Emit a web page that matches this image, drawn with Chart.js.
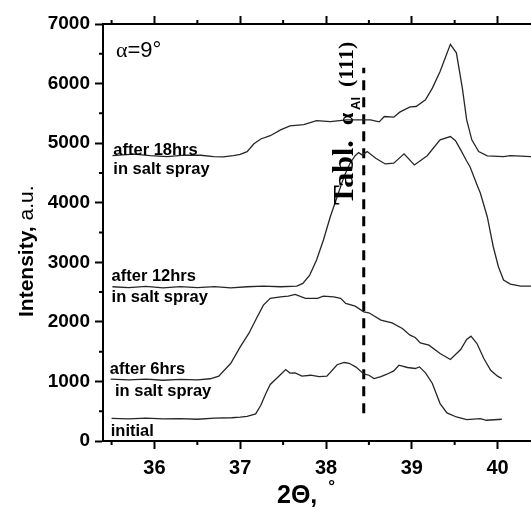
<!DOCTYPE html>
<html>
<head>
<meta charset="utf-8">
<script src="https://cdn.jsdelivr.net/npm/chart.js@4.4.1/dist/chart.umd.min.js"></script>
<style>
  html, body { margin: 0; padding: 0; background: #fff; }
  #wrap { width: 531px; height: 510px; }
</style>
</head>
<body>
<div id="wrap"><canvas id="xrd"></canvas></div>
<script>
// 2Theta (deg) / intensity (a.u.)

const initialX = [35.5, 35.7, 35.9, 36.1, 36.3, 36.5, 36.7, 36.9, 37.0, 37.08, 37.18, 37.24, 37.3, 37.35, 37.45, 37.53, 37.58, 37.64, 37.72, 37.82, 37.92, 38.01, 38.13, 38.21, 38.27, 38.35, 38.44, 38.5, 38.56, 38.64, 38.71, 38.79, 38.85, 38.95, 39.04, 39.09, 39.16, 39.24, 39.33, 39.41, 39.52, 39.64, 39.8, 39.87, 40.05];
const initialY = [380, 372, 385, 370, 375, 365, 385, 390, 400, 415, 455, 600, 800, 950, 1088, 1200, 1140, 1143, 1088, 1104, 1080, 1088, 1280, 1318, 1305, 1240, 1125, 1104, 1049, 1080, 1121, 1177, 1272, 1234, 1217, 1244, 1143, 965, 628, 471, 403, 360, 376, 348, 365];

const after6X = [35.49, 35.7, 35.9, 36.1, 36.3, 36.5, 36.65, 36.75, 36.89, 37.0, 37.1, 37.19, 37.27, 37.35, 37.47, 37.56, 37.64, 37.76, 37.9, 37.97, 38.09, 38.17, 38.23, 38.34, 38.44, 38.5, 38.64, 38.77, 38.89, 38.98, 39.04, 39.1, 39.2, 39.33, 39.45, 39.57, 39.64, 39.69, 39.76, 39.84, 39.92, 40.0, 40.05];
const after6Y = [1037, 1025, 1040, 1020, 1035, 1025, 1045, 1088, 1305, 1580, 1805, 2060, 2281, 2394, 2421, 2433, 2461, 2394, 2394, 2433, 2421, 2394, 2310, 2264, 2168, 2152, 2029, 1984, 1889, 1777, 1738, 1648, 1609, 1469, 1368, 1536, 1704, 1760, 1637, 1385, 1188, 1088, 1049];

const after12X = [35.51, 35.7, 35.9, 36.1, 36.3, 36.5, 36.7, 36.89, 37.08, 37.27, 37.47, 37.66, 37.73, 37.81, 37.89, 37.97, 38.05, 38.13, 38.21, 38.28, 38.34, 38.38, 38.42, 38.48, 38.58, 38.69, 38.79, 38.91, 39.03, 39.18, 39.33, 39.45, 39.51, 39.57, 39.64, 39.68, 39.76, 39.8, 39.88, 39.95, 40.01, 40.07, 40.15, 40.27, 40.39];
const after12Y = [2589, 2575, 2595, 2570, 2590, 2575, 2590, 2572, 2589, 2600, 2589, 2600, 2646, 2785, 3037, 3374, 3765, 4101, 4438, 4663, 4790, 4841, 4803, 4858, 4747, 4651, 4663, 4820, 4634, 4790, 5055, 5110, 5040, 4887, 4700, 4600, 4300, 4159, 3765, 3261, 2925, 2701, 2634, 2600, 2600];

const after18X = [35.51, 35.76, 35.95, 36.15, 36.35, 36.54, 36.69, 36.8, 36.92, 37.0, 37.08, 37.16, 37.24, 37.35, 37.47, 37.58, 37.74, 37.89, 38.05, 38.24, 38.4, 38.52, 38.62, 38.68, 38.79, 38.86, 38.98, 39.05, 39.16, 39.24, 39.33, 39.45, 39.52, 39.59, 39.64, 39.7, 39.78, 39.88, 40.07, 40.15, 40.39];
const after18Y = [4791, 4814, 4790, 4774, 4800, 4797, 4774, 4770, 4791, 4810, 4858, 4990, 5070, 5125, 5223, 5290, 5310, 5377, 5360, 5391, 5391, 5391, 5357, 5447, 5436, 5520, 5610, 5615, 5727, 5924, 6203, 6658, 6517, 5920, 5391, 5055, 4858, 4786, 4774, 4791, 4774];

// tabulated alpha-Al (111) position
const markerX = [38.44, 38.44];
const markerY = [465, 6264];

const xTicks = [36, 37, 38, 39, 40];
const xMinorTicks = [35.5, 36.5, 37.5, 38.5, 39.5];
const yTicks = [0, 1000, 2000, 3000, 4000, 5000, 6000, 7000];
const yMinorTicks = [500, 1500, 2500, 3500, 4500, 5500, 6500];

const xMin = 35.4;
const xMax = 40.39;

const SANS = "'Liberation Sans', Arial, sans-serif";
const SERIF = "'Liberation Serif', 'Times New Roman', serif";

function pts(xs, ys) {
  return xs.map((x, i) => ({ x: x, y: ys[i] }));
}

function curve(xs, ys) {
  return {
    data: pts(xs, ys),
    borderColor: "#262626",
    borderWidth: 1.3,
    pointRadius: 0,
    tension: 0,
    fill: false,
  };
}

const markerSet = {
  data: pts(markerX, markerY),
  borderColor: "#000",
  borderWidth: 3,
  borderDash: [10, 7],
  borderCapStyle: "butt",
  pointRadius: 0,
  fill: false,
};

// minor ticks + all the free text of the figure
const decor = {
  id: "decor",
  afterDraw(chart) {
    const ctx = chart.ctx;
    const xs = chart.scales.x;
    const ys = chart.scales.y;
    const a = chart.chartArea;

    ctx.save();
    ctx.strokeStyle = "#000";
    ctx.lineWidth = 2;
    ctx.beginPath();
    xMinorTicks.forEach((v) => {
      const px = xs.getPixelForValue(v);
      ctx.moveTo(px, a.bottom);
      ctx.lineTo(px, a.bottom + 4);
      ctx.moveTo(px, a.top);
      ctx.lineTo(px, a.top - 4);
    });
    yMinorTicks.forEach((v) => {
      const py = ys.getPixelForValue(v);
      ctx.moveTo(a.left, py);
      ctx.lineTo(a.left - 4, py);
    });
    ctx.stroke();

    ctx.fillStyle = "#000";
    ctx.textBaseline = "alphabetic";
    ctx.textAlign = "left";

    // curve labels
    ctx.font = "bold 16.5px " + SANS;
    const lbl = [
      ["after 18hrs", 35.52, 4803],
      ["in salt spray", 35.52, 4483],
      ["after 12hrs", 35.50, 2690],
      ["in salt spray", 35.50, 2337],
      ["after 6hrs", 35.48, 1133],
      ["in salt spray", 35.54, 751],
      ["initial", 35.49, 84],
    ];
    lbl.forEach(([t, x, y]) => {
      ctx.fillText(t, xs.getPixelForValue(x), ys.getPixelForValue(y));
    });

    // alpha = 9 deg
    ctx.font = "22px " + SERIF;
    ctx.fillText("\u03b1", 116, 57);
    let w = ctx.measureText("\u03b1").width;
    ctx.font = "22px " + SANS;
    ctx.fillText("=9\u00b0", 116 + w, 57);

    // y title
    ctx.save();
    ctx.translate(33, 317);
    ctx.rotate(-Math.PI / 2);
    ctx.font = "bold 21px " + SANS;
    ctx.fillText("Intensity,", 0, 0);
    w = ctx.measureText("Intensity, ").width;
    ctx.font = "21px " + SANS;
    ctx.fillText("a.u.", w, 0);
    ctx.restore();

    // x title
    ctx.font = "bold 25px " + SANS;
    ctx.fillText("2\u0398,", 277, 503);
    w = ctx.measureText("2\u0398,").width;
    ctx.font = "bold 17px " + SANS;
    ctx.fillText("\u00b0", 277 + w + 11, 492);

    // rotated table marker label
    ctx.save();
    ctx.translate(353, 205);
    ctx.rotate(-Math.PI / 2);
    ctx.font = "bold 30px " + SERIF;
    ctx.fillText("Tabl.", 0, 0);
    ctx.font = "bold 22px " + SERIF;
    ctx.fillText("\u03b1", 80, 0);
    ctx.font = "bold 13px " + SANS;
    ctx.fillText("Al", 95, 7);
    ctx.font = "bold 22px " + SERIF;
    ctx.fillText("(111)", 118, 0);
    ctx.restore();

    ctx.restore();
  },
};

const axisGrid = {
  display: true,
  drawOnChartArea: false,
  drawTicks: true,
  tickLength: 8,
  tickWidth: 2,
  tickColor: "#000",
};

new Chart(document.getElementById("xrd"), {
  type: "line",
  data: {
    datasets: [
      curve(initialX, initialY),
      curve(after6X, after6Y),
      curve(after12X, after12Y),
      curve(after18X, after18Y),
      markerSet,
    ],
  },
  options: {
    responsive: true,
    maintainAspectRatio: false,
    animation: false,
    layout: { padding: 0 },
    plugins: { legend: { display: false }, tooltip: { enabled: false } },
    scales: {
      x: {
        type: "linear",
        position: "bottom",
        min: xMin,
        max: xMax,
        afterBuildTicks: (s) => { s.ticks = xTicks.map((v) => ({ value: v })); },
        afterFit: (s) => { s.height = 69; },
        grid: axisGrid,
        border: { display: true, width: 2, color: "#000" },
        ticks: {
          color: "#000",
          padding: 7,
          maxRotation: 0,
          callback: (v) => String(v),
          font: { family: SANS, size: 20, weight: "bold" },
        },
      },
      x2: {
        type: "linear",
        position: "top",
        min: xMin,
        max: xMax,
        afterBuildTicks: (s) => { s.ticks = xTicks.map((v) => ({ value: v })); },
        afterFit: (s) => { s.height = 24; },
        grid: axisGrid,
        border: { display: true, width: 2, color: "#000" },
        ticks: { display: false },
      },
      y: {
        type: "linear",
        min: 0,
        max: 7000,
        afterBuildTicks: (s) => { s.ticks = yTicks.map((v) => ({ value: v })); },
        afterFit: (s) => { s.width = 103; },
        grid: axisGrid,
        border: { display: true, width: 2, color: "#000" },
        ticks: {
          color: "#000",
          padding: 5,
          callback: (v) => String(v),
          font: { family: SANS, size: 19, weight: "bold" },
        },
      },
    },
  },
  plugins: [decor],
});
</script>
</body>
</html>
